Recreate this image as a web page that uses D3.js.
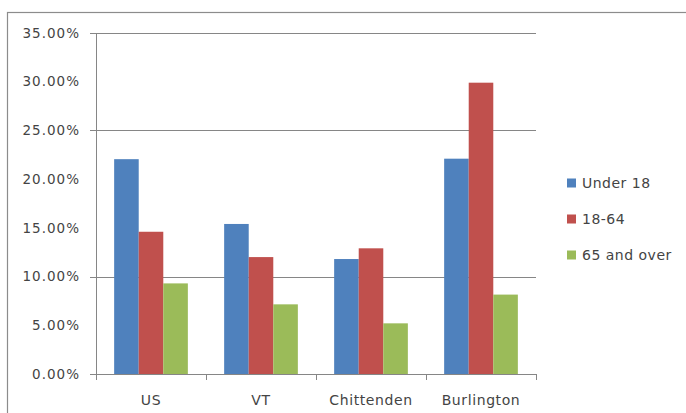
<!DOCTYPE html>
<html><head><meta charset="utf-8">
<script src="https://cdn.jsdelivr.net/npm/d3@7"></script>
<style>html,body{margin:0;padding:0;background:#fff;}svg{display:block;}</style>
</head><body>
<svg id="chart" width="686" height="413"></svg>
<script>
const categories = ["US", "VT", "Chittenden", "Burlington"];
const seriesNames = ["Under 18", "18-64", "65 and over"];
const under18 = [0.2205, 0.154, 0.118, 0.221];
const age18to64 = [0.146, 0.120, 0.129, 0.299];
const age65plus = [0.093, 0.0715, 0.052, 0.0815];
const colors = ["#4F81BD", "#C0504D", "#9BBB59"];
const tickValues = [0, 0.05, 0.10, 0.15, 0.20, 0.25, 0.30, 0.35];
const visibleGrid = [0.10, 0.25, 0.35];

const series = [under18, age18to64, age65plus];
const svg = d3.select("#chart");
const font = "DejaVu Sans, sans-serif";
const textColor = "#444";

// outer chart border
svg.append("rect").attr("x", 7.5).attr("y", 12.5).attr("width", 700).attr("height", 420)
  .attr("fill", "none").attr("stroke", "#8c8c8c").attr("stroke-width", 1.2);

const plot = {left: 96, right: 536, top: 33, bottom: 374};
const x0 = d3.scaleBand().domain(categories).range([plot.left, plot.right]).paddingInner(0.33).paddingOuter(0.165);
const x1 = d3.scaleBand().domain(seriesNames).range([0, x0.bandwidth()]);
const y = d3.scaleLinear().domain([0, 0.35]).range([plot.bottom, plot.top]);

// gridlines
svg.append("g").selectAll("line").data(visibleGrid).join("line")
  .attr("x1", plot.left - 6).attr("x2", plot.right)
  .attr("y1", d => Math.round(y(d)) + 0.5).attr("y2", d => Math.round(y(d)) + 0.5)
  .attr("stroke", "#868686").attr("stroke-width", 1);

// bars
const groups = svg.append("g").selectAll("g").data(categories).join("g")
  .attr("transform", c => `translate(${x0(c)},0)`);
groups.selectAll("rect").data((c, i) => series.map((s, j) => ({name: seriesNames[j], v: s[i], j})))
  .join("rect")
  .attr("x", d => x1(d.name)).attr("width", x1.bandwidth())
  .attr("y", d => y(d.v)).attr("height", d => y(0) - y(d.v))
  .attr("fill", d => colors[d.j]);

// y axis
svg.append("line").attr("x1", plot.left + 0.5).attr("x2", plot.left + 0.5)
  .attr("y1", plot.top).attr("y2", plot.bottom + 1).attr("stroke", "#868686");
svg.append("line").attr("x1", plot.left - 6).attr("x2", plot.left)
  .attr("y1", Math.round(y(0)) + 0.5).attr("y2", Math.round(y(0)) + 0.5).attr("stroke", "#868686");
svg.append("g").selectAll("text").data(tickValues).join("text")
  .attr("x", 80).attr("y", d => y(d)).attr("dy", "0.35em")
  .attr("text-anchor", "end").attr("font-family", font).attr("font-size", 13.5)
  .attr("letter-spacing", 1).attr("fill", textColor)
  .text(d => d3.format(".2%")(d));

// x axis
svg.append("line").attr("x1", plot.left).attr("x2", plot.right)
  .attr("y1", Math.round(y(0)) + 0.5).attr("y2", Math.round(y(0)) + 0.5).attr("stroke", "#868686");
const bounds = d3.range(categories.length + 1).map(i => plot.left + i * x0.step());
svg.append("g").selectAll("line").data(bounds).join("line")
  .attr("x1", d => Math.round(d) + 0.5).attr("x2", d => Math.round(d) + 0.5)
  .attr("y1", y(0)).attr("y2", y(0) + 6).attr("stroke", "#868686");
svg.append("g").selectAll("text").data(categories).join("text")
  .attr("x", c => x0(c) + x0.bandwidth() / 2).attr("y", 400).attr("dy", "0.35em")
  .attr("text-anchor", "middle").attr("font-family", font).attr("font-size", 14)
  .attr("letter-spacing", 0.6).attr("fill", textColor).text(c => c);

// legend
const leg = svg.append("g").selectAll("g").data(seriesNames).join("g")
  .attr("transform", (d, i) => `translate(567,${183 + i * 36})`);
leg.append("rect").attr("x", 0).attr("y", -4.5).attr("width", 9).attr("height", 9)
  .attr("fill", (d, i) => colors[i]);
leg.append("text").attr("x", 15).attr("y", 0).attr("dy", "0.35em")
  .attr("font-family", font).attr("font-size", 14).attr("letter-spacing", 0.5)
  .attr("fill", textColor).text(d => d);
</script>
</body></html>
